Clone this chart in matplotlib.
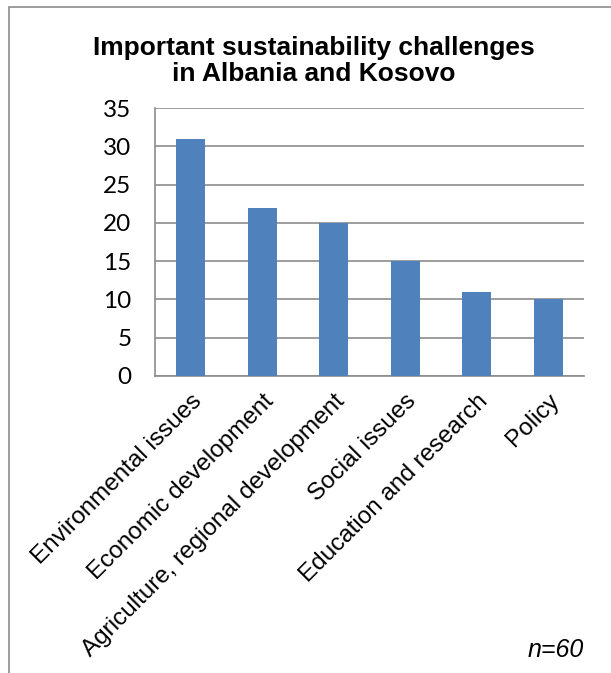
import matplotlib.pyplot as plt
from matplotlib.patches import Rectangle

# Survey counts per challenge category
categories = ['Environmental issues', 'Economic development',
              'Agriculture, regional development', 'Social issues',
              'Education and research', 'Policy']
counts = [31, 22, 20, 15, 11, 10]
yticks = [0, 5, 10, 15, 20, 25, 30, 35]

fig = plt.figure(figsize=(6.11, 6.73), dpi=100)

# outer chart border (cropped on right and bottom)
fig.patches.append(Rectangle((9 / 611, -0.1), 1.0, 1.1 - 7 / 673,
                             transform=fig.transFigure, fill=False,
                             edgecolor='#8c8c8c', linewidth=1.2))

ax = fig.add_axes([155 / 611, 297 / 673, 429 / 611, 268 / 673])
x = range(len(categories))
ax.bar(x, counts, width=0.4, color='#4F81BD', zorder=3)

ax.set_xlim(-0.5, len(categories) - 0.5)
ax.set_ylim(0, 35)
ax.set_yticks(yticks)
ax.set_yticklabels([str(v) for v in yticks], fontsize=17.5, family='Lato')
ax.set_xticks(list(x))
ax.set_xticklabels(categories, rotation=45, ha='right', rotation_mode='anchor',
                   fontsize=17.5, family='Liberation Sans')
ax.tick_params(axis='x', length=0, pad=10)
ax.tick_params(axis='y', length=0, pad=17)

ax.grid(axis='y', color='#8c8c8c', linewidth=1.2, zorder=0)
for side in ['top', 'right']:
    ax.spines[side].set_visible(False)
ax.spines['left'].set_color('#8c8c8c')
ax.spines['bottom'].set_color('#8c8c8c')
ax.spines['left'].set_linewidth(1.2)
ax.spines['bottom'].set_linewidth(1.2)

fig.text(314 / 611, 1 - 61 / 673, 'Important sustainability challenges\nin Albania and Kosovo',
         ha='center', va='center', fontsize=19, fontweight='bold',
         family='Liberation Sans', linespacing=1.15)
fig.text(556 / 611, 1 - 650 / 673, 'n=60', ha='center', va='center',
         fontsize=18, style='italic', family='Liberation Sans')

fig.savefig('out.png', dpi=100)
